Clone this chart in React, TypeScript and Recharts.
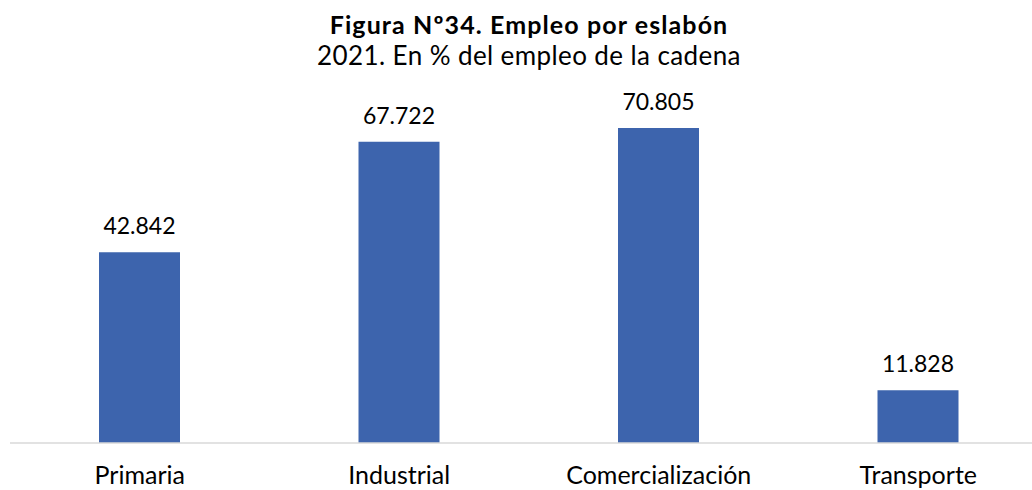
import React from 'react';
import { BarChart, Bar, XAxis, YAxis, LabelList } from 'recharts';

const categories = ['Primaria', 'Industrial', 'Comercialización', 'Transporte'];
const empleo = [42.842, 67.722, 70.805, 11.828];

const data = categories.map((name, i) => ({ name, value: empleo[i] }));

const font = 'Lato, "Open Sans", sans-serif';

export default function App() {
  return (
    <div style={{ position: 'absolute', left: 0, top: 0, width: 1032, height: 490, overflow: 'hidden', background: '#fff', fontFamily: font }}>
      <div style={{ position: 'absolute', left: 0, width: 1058, top: 9, textAlign: 'center', fontSize: 25, fontWeight: 700, color: '#000', lineHeight: 1.2, letterSpacing: 1.1, whiteSpace: 'nowrap' }}>
        Figura Nº34.&nbsp;Empleo por eslabón
      </div>
      <div style={{ position: 'absolute', left: 0, width: 1058, top: 40, textAlign: 'center', fontSize: 26, color: '#000', lineHeight: 1.2, letterSpacing: 0.4, whiteSpace: 'nowrap' }}>
        2021. En % del empleo de la cadena
      </div>
      <BarChart width={1048} height={490} data={data} margin={{ top: 87, right: 0, bottom: 0, left: 10 }}>
        <XAxis
          dataKey="name"
          height={47}
          axisLine={{ stroke: '#d9d9d9', strokeWidth: 1.5 }}
          tickLine={false}
          tickSize={0}
          tickMargin={23}
          tick={{ fill: '#000', fontSize: 25, fontFamily: font }}
          interval={0}
        />
        <YAxis hide domain={[0, 80]} />
        <Bar dataKey="value" fill="#3d64ad" barSize={81} isAnimationActive={false}>
          <LabelList dataKey="value" position="top" offset={18} fill="#000" fontSize={23} fontFamily={font} formatter={(v: number) => v.toFixed(3)} />
        </Bar>
      </BarChart>
    </div>
  );
}
